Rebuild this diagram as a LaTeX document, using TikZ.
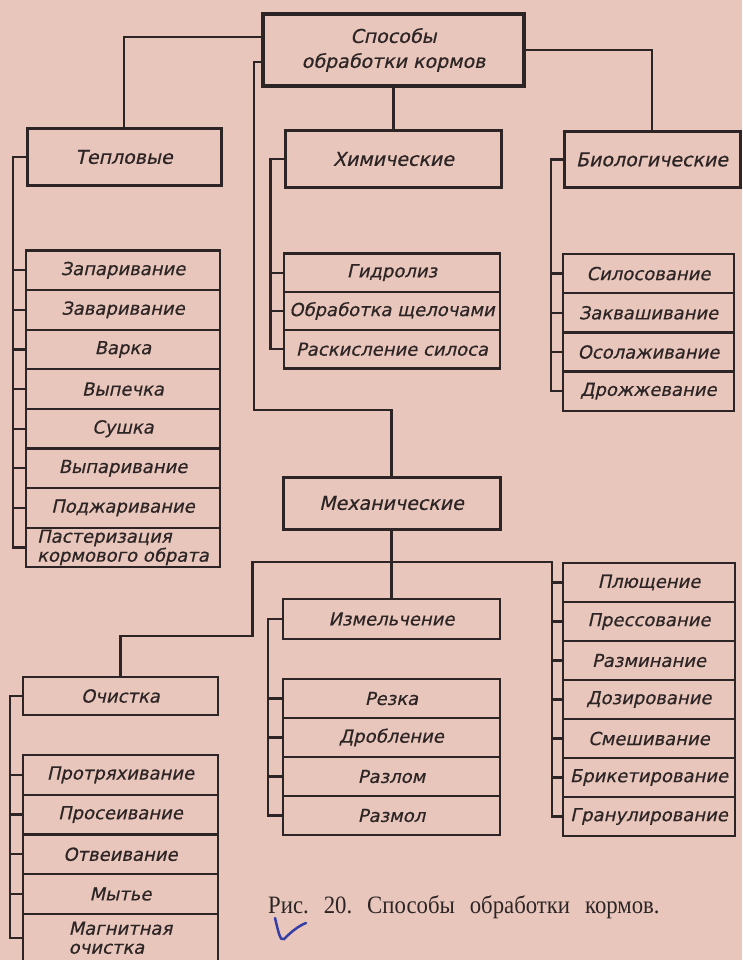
\documentclass[tikz,border=0pt]{standalone}
\usepackage{fontspec}
\setmainfont{Liberation Serif}
\newfontfamily\capfont{Liberation Serif}[FakeStretch=0.91]
\newfontfamily\gostfont{DejaVu Sans}[FakeSlant=0.22, FakeBold=0.5]
\definecolor{paper}{RGB}{232,198,187}
\definecolor{ink}{RGB}{45,37,37}
\definecolor{pen}{RGB}{52,62,165}
\tikzset{
  cell/.style={draw=ink, line width=2.3pt, inner sep=0pt, outer sep=0pt,
    text=ink, font=\gostfont\fontsize{18}{20}\selectfont},
  groupbox/.style={cell, line width=3pt, font=\gostfont\fontsize{19}{22}\selectfont},
  rootbox/.style={groupbox, line width=4.5pt, align=center,
    font=\gostfont\fontsize{19}{25}\selectfont},
  link/.style={draw=ink, line width=2.3pt}
}
\begin{document}
\begin{tikzpicture}[x=1pt,y=-1pt]

            \fill[paper] (0,0) rectangle (742,960);
            \useasboundingbox (0,0) rectangle (742,960);

            % main groups
            \node[rootbox, minimum width=261pt, minimum height=72pt] (root) at (393.5,50) {Способы\\обработки кормов};
            \node[groupbox, minimum width=194pt, minimum height=56pt] (teplo) at (124,157) {Тепловые};
            \node[groupbox, minimum width=216pt, minimum height=56pt] (chem) at (393.5,159) {Химические};
            \node[groupbox, minimum width=176pt, minimum height=55pt] (bio) at (652,159.5) {Биологические};
            \node[groupbox, minimum width=217pt, minimum height=52pt] (mech) at (391.5,503) {Механические};
            \node[cell, minimum width=217pt, minimum height=40pt] (izm) at (391.5,619) {Измельчение};
            \node[cell, minimum width=195pt, minimum height=38pt] (ochist) at (120.5,696) {Очистка};

            % thermal methods
            \tikzset{cell/.append style={minimum width=194pt, minimum height=39.6pt}}
            \node[cell] (t1) at (123,270.3) {Запаривание};
            \node[cell] (t2) at (123,309.9) {Заваривание};
            \node[cell] (t3) at (123,349.5) {Варка};
            \node[cell] (t4) at (123,389.1) {Выпечка};
            \node[cell] (t5) at (123,428.7) {Сушка};
            \node[cell] (t6) at (123,468.3) {Выпаривание};
            \node[cell] (t7) at (123,507.9) {Поджаривание};
            \node[cell, align=left, font=\gostfont\fontsize{18}{19}\selectfont] (t8) at (123,547.5) {Пастеризация\\кормового обрата};

            % chemical methods
            \node[cell, minimum width=216pt, minimum height=38.3pt] (c1) at (392,272.65) {Гидролиз};
            \node[cell, minimum width=216pt, minimum height=38.3pt] (c2) at (392,310.95) {Обработка щелочами};
            \node[cell, minimum width=216pt, minimum height=38.3pt] (c3) at (392,349.25) {Раскисление силоса};

            % biological methods
            \node[cell, minimum width=171pt, minimum height=39.2pt] (b1) at (648.5,273.6) {Силосование};
            \node[cell, minimum width=171pt, minimum height=39.2pt] (b2) at (648.5,312.8) {Заквашивание};
            \node[cell, minimum width=171pt, minimum height=39.2pt] (b3) at (648.5,352.0) {Осолаживание};
            \node[cell, minimum width=171pt, minimum height=39.2pt] (b4) at (648.5,391.2) {Дрожжевание};

            % grinding
            \node[cell, minimum width=217pt, minimum height=39pt] (r1) at (391.5,698.5) {Резка};
            \node[cell, minimum width=217pt, minimum height=39pt] (r2) at (391.5,737.5) {Дробление};
            \node[cell, minimum width=217pt, minimum height=39pt] (r3) at (391.5,776.5) {Разлом};
            \node[cell, minimum width=217pt, minimum height=39pt] (r4) at (391.5,815.5) {Размол};

            % other mechanical methods
            \node[cell, minimum width=172pt, minimum height=39pt] (p1) at (649,582.5) {Плющение};
            \node[cell, minimum width=172pt, minimum height=39pt] (p2) at (649,621.5) {Прессование};
            \node[cell, minimum width=172pt, minimum height=39pt] (p3) at (649,660.5) {Разминание};
            \node[cell, minimum width=172pt, minimum height=39pt] (p4) at (649,699.5) {Дозирование};
            \node[cell, minimum width=172pt, minimum height=39pt] (p5) at (649,738.5) {Смешивание};
            \node[cell, minimum width=172pt, minimum height=39pt] (p6) at (649,777.5) {Брикетирование};
            \node[cell, minimum width=172pt, minimum height=39pt] (p7) at (649,816.5) {Гранулирование};

            % cleaning
            \node[cell, minimum width=195pt, minimum height=39.7pt] (o1) at (120.5,774.85) {Протряхивание};
            \node[cell, minimum width=195pt, minimum height=39.7pt] (o2) at (120.5,814.55) {Просеивание};
            \node[cell, minimum width=195pt, minimum height=39.7pt] (o3) at (120.5,854.25) {Отвеивание};
            \node[cell, minimum width=195pt, minimum height=39.7pt] (o4) at (120.5,893.95) {Мытье};
            \node[cell, minimum width=195pt, minimum height=48pt, align=left, font=\gostfont\fontsize{18}{19}\selectfont] (o5) at (120.5,937.8) {Магнитная\\очистка};

            % links between groups
            \draw[link] ([yshift=13pt]root.west) -| (teplo.north);
            \draw[link] (root.south) -- (chem.north);
            \draw[link] (root.east) -| (bio.north);
            \draw[link] ([yshift=-12pt]root.west) -| ++(-9,348) -| (mech.north);
            \draw[link] (mech.south) -- (izm.north);
            \draw[link] (ochist.north) -- ++(0,-41) -| ++(132,-74) -| ([xshift=-11pt]p7.west) -- (p7.west);

            % side brackets
            \draw[link] (teplo.west) -- ++(-14,0) |- (t8.west);
            \draw[link] (t1.west) -- ++(-13,0) (t2.west) -- ++(-13,0) (t3.west) -- ++(-13,0)
                        (t4.west) -- ++(-13,0) (t5.west) -- ++(-13,0) (t6.west) -- ++(-13,0)
                        (t7.west) -- ++(-13,0);
            \draw[link] (chem.west) -- ++(-15,0) |- (c3.west);
            \draw[link] (c1.west) -- ++(-13.5,0) (c2.west) -- ++(-13.5,0);
            \draw[link] (bio.west) -- ++(-13,0) |- (b4.west);
            \draw[link] (b1.west) -- ++(-12,0) (b2.west) -- ++(-12,0) (b3.west) -- ++(-12,0);
            \draw[link] (izm.west) -- ++(-15,0) |- (r4.west);
            \draw[link] (r1.west) -- ++(-15,0) (r2.west) -- ++(-15,0) (r3.west) -- ++(-15,0);
            \draw[link] (p1.west) -- ++(-11,0) (p2.west) -- ++(-11,0) (p3.west) -- ++(-11,0)
                        (p4.west) -- ++(-11,0) (p5.west) -- ++(-11,0) (p6.west) -- ++(-11,0);
            \draw[link] (ochist.west) -- ++(-13,0) |- (o5.west);
            \draw[link] (o1.west) -- ++(-13,0) (o2.west) -- ++(-13,0) (o3.west) -- ++(-13,0)
                        (o4.west) -- ++(-13,0);

            % caption
            \node[anchor=base west, inner sep=0pt, text=ink, font=\capfont\fontsize{25}{28}\selectfont] (capt) at (268,913)
                {Рис.\hspace{15pt}20.\hspace{15pt}Способы\hspace{15pt}обработки\hspace{15pt}кормов.};
            \draw[pen, line width=2.5pt, line cap=round] (275,918) .. controls (278,930) and (280,942) .. (284,939)
                .. controls (290,933) and (298,926) .. (306,923);

        \end{tikzpicture}
\end{document}
